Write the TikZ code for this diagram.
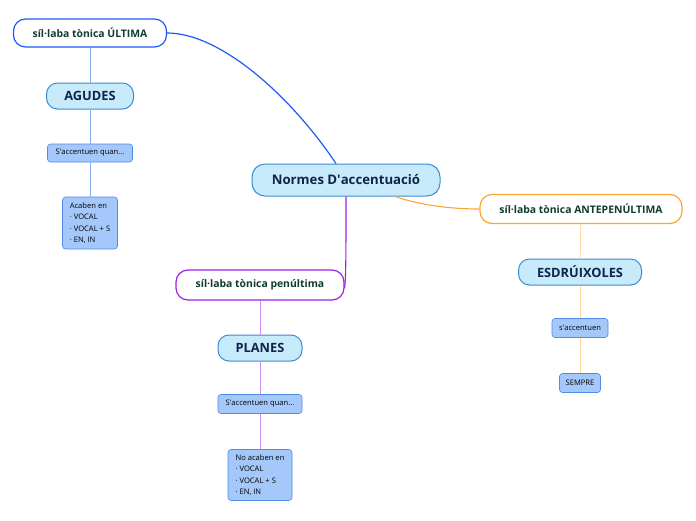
\documentclass[tikz,border=0pt]{standalone}
\usepackage{fontspec}
\setmainfont{Open Sans}
\usetikzlibrary{calc}

\definecolor{branchblue}{RGB}{30,90,245}
\definecolor{lineblue}{RGB}{135,170,240}
\definecolor{branchorange}{RGB}{255,165,50}
\definecolor{lineorange}{RGB}{255,212,150}
\definecolor{branchpurple}{RGB}{160,30,230}
\definecolor{linepurple}{RGB}{212,140,245}
\definecolor{textgreen}{RGB}{16,60,45}
\definecolor{textnavy}{RGB}{15,35,75}
\definecolor{mainfill}{RGB}{200,235,252}
\definecolor{mainborder}{RGB}{60,140,210}
\definecolor{notefill}{RGB}{165,200,250}
\definecolor{noteborder}{RGB}{80,140,230}

\begin{document}
\begin{tikzpicture}[x=1pt, y=-1pt,
    topic/.style={draw=#1, fill=white, line width=1.2pt, rounded corners=12pt,
      minimum height=28pt, inner sep=2pt, text=textgreen,
      font=\fontsize{10.4}{12}\selectfont\bfseries},
    subtopic/.style={draw=mainborder, fill=mainfill, line width=1pt, rounded corners=11pt,
      minimum height=26pt, inner sep=2pt, text=textnavy,
      font=\fontsize{12.8}{14}\selectfont\bfseries},
    note/.style={draw=noteborder, fill=notefill, line width=0.6pt, rounded corners=3pt,
      minimum height=18pt, inner sep=3pt, text=black,
      font=\fontsize{7.6}{11.5}\selectfont},
    twig/.style={draw=#1, line width=0.8pt}]

    % marges
    \useasboundingbox (0,0) rectangle (696,520);

    % node central
    \node[subtopic, minimum width=188pt, minimum height=32pt, rounded corners=13pt,
      font=\fontsize{13.2}{14}\selectfont\bfseries] (central) at (346,180) {Normes D\textquotesingle accentuació};

    % branca ÚLTIMA
    \node[topic=branchblue, minimum width=153pt] (ultima) at (90,33) {síl·laba tònica ÚLTIMA};
    \node[subtopic, minimum width=87pt] (agudes) at (90,96) {AGUDES};
    \node[note, minimum width=85pt] (quanA) at (90,153) {S\textquotesingle accentuen quan...};
    \node[note, align=left, minimum width=55pt, minimum height=52pt] (acaben) at (90,223)
      {Acaben en\\· VOCAL\\· VOCAL + S\\· EN, IN};

    % branca ANTEPENÚLTIMA
    \node[topic=branchorange, minimum width=202pt, minimum height=29pt] (antepen) at (581,209) {síl·laba tònica ANTEPENÚLTIMA};
    \node[subtopic, minimum width=123pt] (esdruixoles) at (580,272) {ESDRÚIXOLES};
    \node[note, minimum width=56pt, minimum height=19pt] (saccent) at (580,328) {s\textquotesingle accentuen};
    \node[note, minimum width=41pt, minimum height=19pt] (sempre) at (580,383) {SEMPRE};

    % branca penúltima
    \node[topic=branchpurple, minimum width=168pt, minimum height=30pt] (penultima) at (260,285) {síl·laba tònica penúltima};
    \node[subtopic, minimum width=84pt] (planes) at (260,348) {PLANES};
    \node[note, minimum width=84pt, minimum height=19pt] (quanP) at (260,404) {S\textquotesingle accentuen quan...};
    \node[note, align=left, minimum width=64pt, minimum height=51pt] (noacaben) at (260,475)
      {No acaben en\\· VOCAL\\· VOCAL + S\\· EN, IN};

    % connectors principals
    \draw[branchblue, line width=1.2pt] ([xshift=-10pt]central.north)
      .. controls (290,95) and (220,33) .. (ultima.east);
    \draw[branchorange, line width=1.1pt] ([xshift=49pt]central.south)
      .. controls (420,205) and (450,209) .. (antepen.west);
    \draw[branchpurple, line width=1.1pt] (central.south)
      .. controls (346,250) and (346,278) .. ([yshift=-3pt]penultima.east);

    % connectors secundaris
    \draw[twig=lineblue] (ultima) -- (agudes);
    \draw[twig=lineblue] (agudes) -- (quanA);
    \draw[twig=lineblue] (quanA) -- (acaben);
    \draw[twig=lineorange] (antepen) -- (esdruixoles);
    \draw[twig=lineorange] (esdruixoles) -- (saccent);
    \draw[twig=lineorange] (saccent) -- (sempre);
    \draw[twig=linepurple] (penultima) -- (planes);
    \draw[twig=linepurple] (planes) -- (quanP);
    \draw[twig=linepurple] (quanP) -- (noacaben);

\end{tikzpicture}
\end{document}
